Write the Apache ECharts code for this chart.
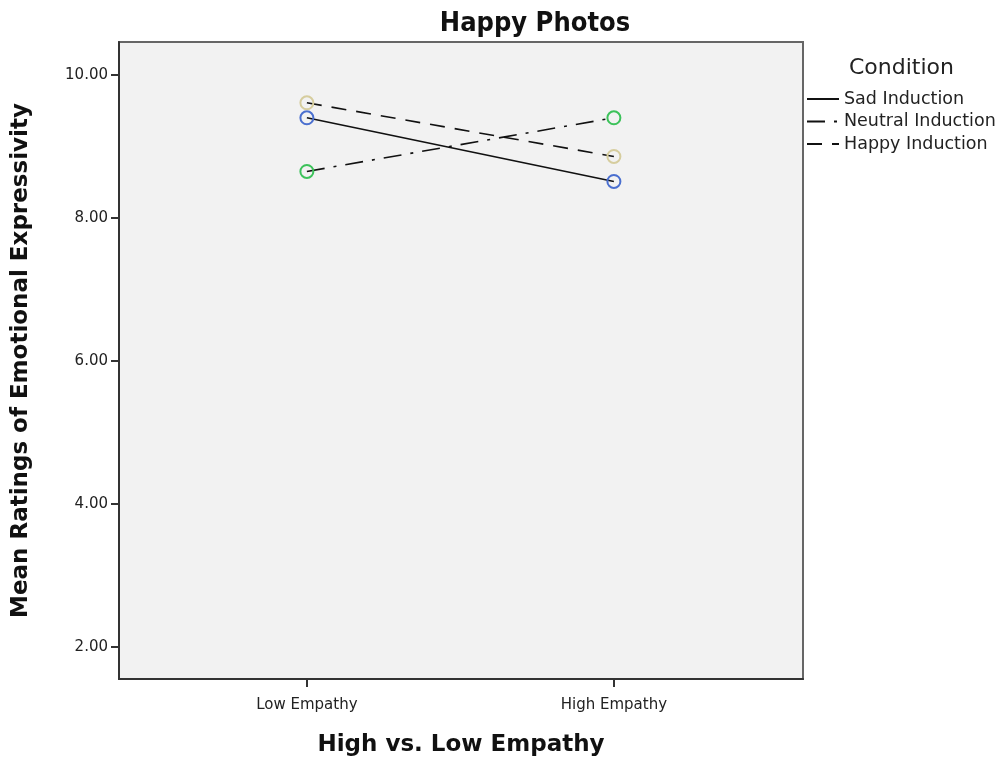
<!DOCTYPE html>
<html><head><meta charset="utf-8">
<script src="https://cdn.jsdelivr.net/npm/echarts@6/dist/echarts.min.js"></script>
<style>html,body{margin:0;padding:0;background:#fff}#c{width:1005px;height:762px}</style>
</head><body><div id="c"></div>
<script>
const categories = ['Low Empathy', 'High Empathy'];
const seriesNames = ['Sad Induction', 'Neutral Induction', 'Happy Induction'];
const sadValues = [9.40, 8.51];
const neutralValues = [8.65, 9.40];
const happyValues = [9.61, 8.86];
const yTicks = [2, 4, 6, 8, 10];

const font = '"DejaVu Sans", sans-serif';
const chart = echarts.init(document.getElementById('c'));
function pts(vals){ return vals.map((v,i)=>[i,v]); }
function mk(name, vals, color, dash){
  return {
    name, type:'line', data: pts(vals),
    symbol:'circle', symbolSize: 13,
    itemStyle:{color:'rgba(0,0,0,0)', borderColor: color, borderWidth: 2},
    lineStyle:{color:'#111', width:1.6, type: dash},
    emphasis:{disabled:true}, z: 3
  };
}
chart.setOption({
  animation:false,
  backgroundColor:'#fff',
  title:[
    {text:'Happy Photos', left:530, top:5, textAlign:'center',
     textStyle:{fontFamily:'"DejaVu Sans Condensed","Liberation Sans Narrow",sans-serif', fontSize:27, fontWeight:'bold', color:'#111'}},
    {text:'Condition', left:849, top:57, padding:0,
     textStyle:{fontFamily:font, fontSize:22, fontWeight:'normal', color:'#222'}}
  ],
  legend:{
    orient:'vertical', left:806, top:90, itemGap:4.5, padding:0,
    itemWidth:32, itemHeight:14,
    itemStyle:{opacity:0},
    textStyle:{fontFamily:font, fontSize:17.5, color:'#222', padding:[0,0,0,0]},
    data: seriesNames
  },
  grid:{left:119, right:202, top:42, bottom:81, show:true, backgroundColor:'#f2f2f2', borderColor:'#666', borderWidth:2},
  xAxis:{
    type:'value', min:-0.612, max:1.616,
    name:'High vs. Low Empathy', nameLocation:'middle', nameGap:55,
    nameTextStyle:{fontFamily:font, fontSize:23, fontWeight:'bold', color:'#111'},
    axisLine:{show:true, onZero:false, lineStyle:{color:'#333', width:2}},
    axisTick:{show:true, customValues:[0,1], length:8, lineStyle:{color:'#333', width:2}},
    axisLabel:{customValues:[0,1], formatter:v=>categories[Math.round(v)], fontFamily:font, fontSize:15, color:'#222', margin:19},
    splitLine:{show:false}
  },
  yAxis:{
    type:'value', min:1.554, max:10.46,
    name:'Mean Ratings of Emotional Expressivity', nameLocation:'middle', nameGap:86,
    nameTextStyle:{fontFamily:font, fontSize:23, fontWeight:'bold', color:'#111'},
    axisLine:{show:true, onZero:false, lineStyle:{color:'#333', width:2}},
    axisTick:{show:true, customValues:yTicks, length:8, lineStyle:{color:'#333', width:2}},
    axisLabel:{customValues:yTicks, formatter:v=>v.toFixed(2), fontFamily:font, fontSize:15, color:'#222', margin:11},
    splitLine:{show:false}
  },
  series:[
    mk(seriesNames[0], sadValues, '#4a6fcf', 'solid'),
    mk(seriesNames[1], neutralValues, '#3cc25a', [18,9,3,9]),
    mk(seriesNames[2], happyValues, '#d6cd9e', [15,10])
  ]
});
</script></body></html>
